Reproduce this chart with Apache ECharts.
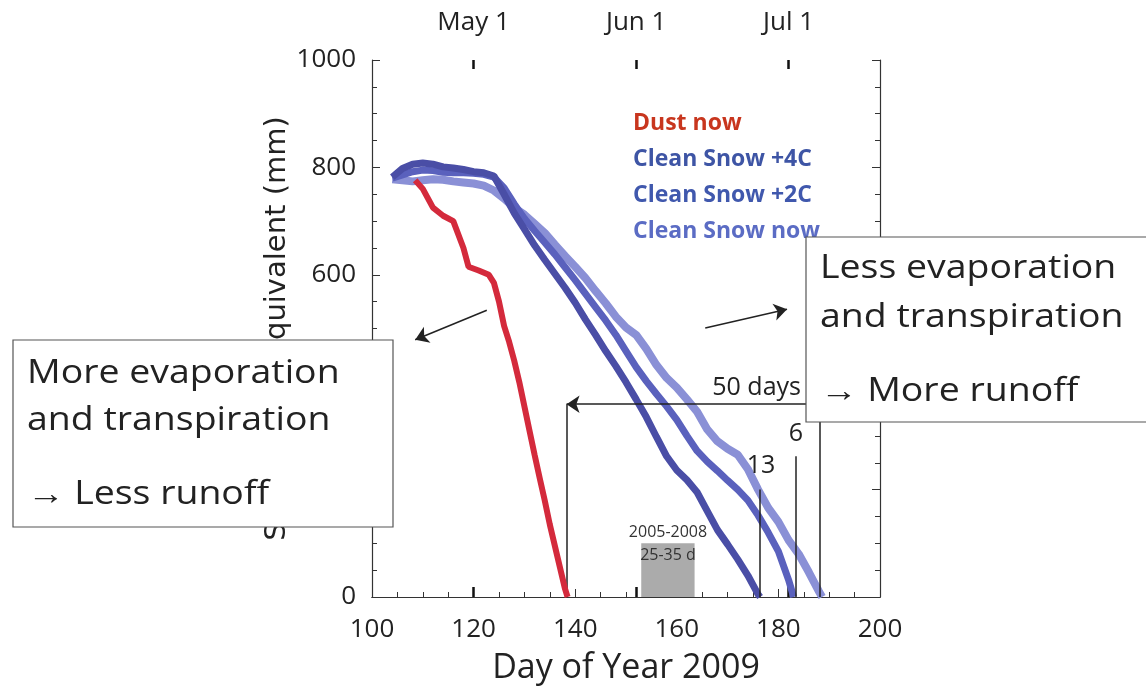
<!DOCTYPE html>
<html>
<head>
<meta charset="utf-8">
<script src="https://cdn.jsdelivr.net/npm/echarts@6/dist/echarts.min.js"></script>
<style>
html, body { margin: 0; padding: 0; background: #fff; }
#chart { width: 1146px; height: 690px; }
</style>
</head>
<body>
<div id="chart"></div>
<script>
// snow water equivalent (mm) by day of year 2009
const dustDays = [108.5, 110, 112, 114, 116, 118, 119, 121, 123, 124, 125, 126, 127, 128, 129, 130, 131, 132, 133, 134, 135, 136, 137, 138, 138.5];
const dustSwe = [776, 760, 725, 710, 700, 650, 615, 608, 600, 585, 550, 505, 475, 440, 400, 355, 310, 265, 222, 180, 135, 95, 55, 15, 0];

const warm4Days = [104, 106, 108, 110, 112, 114, 116, 118, 120, 122, 124, 126, 128, 130, 132, 134, 136, 138, 140, 142, 144, 146, 148, 150, 152, 154, 156, 158, 160, 162, 164, 166, 168, 170, 172, 174, 176, 176.4];
const warm4Swe = [782, 798, 806, 808, 806, 801, 799, 796, 792, 790, 784, 750, 715, 685, 655, 628, 602, 576, 548, 517, 488, 458, 430, 400, 368, 335, 298, 262, 236, 218, 195, 160, 125, 98, 70, 40, 5, 0];

const warm2Days = [104, 106, 108, 110, 112, 114, 116, 118, 120, 122, 124, 126, 128, 130, 132, 134, 136, 138, 140, 142, 144, 146, 148, 150, 152, 154, 156, 158, 160, 162, 164, 166, 168, 170, 172, 174, 176, 178, 180, 182, 183];
const warm2Swe = [780, 786, 792, 795, 794, 791, 790, 790, 789, 787, 782, 762, 732, 705, 682, 660, 638, 614, 590, 565, 540, 515, 488, 458, 428, 402, 378, 355, 330, 300, 272, 252, 235, 217, 200, 180, 152, 120, 85, 32, 0];

const nowDays = [104, 106, 108, 110, 112, 114, 116, 118, 120, 122, 124, 126, 128, 130, 132, 134, 136, 138, 140, 142, 144, 146, 148, 150, 152, 154, 156, 158, 160, 162, 164, 166, 168, 170, 172, 174, 176, 178, 180, 182, 184, 186, 188, 188.6];
const nowSwe = [778, 776, 774, 776, 778, 777, 774, 772, 770, 766, 757, 742, 725, 712, 695, 678, 656, 635, 615, 594, 570, 547, 522, 502, 488, 462, 432, 408, 390, 368, 345, 312, 290, 276, 265, 238, 200, 166, 140, 106, 80, 46, 10, 0];

const monthDays = [120, 152, 182];
const monthLabels = ['May 1', 'Jun 1', 'Jul 1'];

// melt-out day markers: dust, +4C, +2C, now
const meltOut = [138.3, 176.4, 183.5, 188.2];
const meltTop = [359, 200, 262, 359];
const spanSwe = 359;
// 2005-2008 melt-out range
const pastRange = [153, 163.5];
const pastTop = 100;

const zip = (xs, ys) => xs.map((x, i) => [x, ys[i]]);

const chart = echarts.init(document.getElementById('chart'));
const font = 'Open Sans';
const axisCol = '#333';

// wide box text, like the original lettering
const boxText = (x, y, text) => ({
  type: 'text', z: 101, x: x, y: y, scaleX: 1.17,
  style: { x: 0, y: 0, text: text, fill: '#222', font: '32px "Open Sans"', verticalAlign: 'middle' }
});

const option = {
  animation: false,
  textStyle: { fontFamily: font },
  grid: { left: 372, right: 266, top: 60, bottom: 93 },
  legend: {
    orient: 'vertical',
    left: 623,
    top: 105,
    icon: 'none',
    itemWidth: 0,
    itemGap: 10,
    selectedMode: false,
    textStyle: { fontSize: 23, fontWeight: 'bold', lineHeight: 26, fontFamily: font },
    data: [
      { name: 'Dust now', textStyle: { color: '#c8361e' } },
      { name: 'Clean Snow +4C', textStyle: { color: '#3e55a5' } },
      { name: 'Clean Snow +2C', textStyle: { color: '#4058ad' } },
      { name: 'Clean Snow now', textStyle: { color: '#5b6cc4' } }
    ]
  },
  xAxis: [
    {
      type: 'value', min: 100, max: 200, interval: 20,
      name: 'Day of Year 2009', nameLocation: 'middle', nameGap: 54,
      nameTextStyle: { fontSize: 34, color: '#222' },
      axisLine: { lineStyle: { color: axisCol, width: 1.2 } },
      axisTick: { inside: true, length: 8, lineStyle: { color: axisCol } },
      minorTick: { show: true, splitNumber: 4, length: 5, lineStyle: { color: axisCol } },
      axisLabel: { fontSize: 26, color: '#222', margin: 20 },
      splitLine: { show: false }
    },
    {
      type: 'value', min: 100, max: 200, position: 'top',
      axisLine: { lineStyle: { color: axisCol, width: 1.2 } },
      axisTick: { show: true, inside: false, length: 10, customValues: monthDays, lineStyle: { color: '#111', width: 2.5 } },
      axisLabel: {
        fontSize: 26, color: '#222', margin: 24, customValues: monthDays,
        formatter: v => monthLabels[monthDays.indexOf(v)]
      },
      splitLine: { show: false }
    },
    {
      type: 'value', min: 100, max: 200, position: 'top',
      axisLine: { show: false },
      axisTick: { show: true, inside: true, length: 9, customValues: monthDays, lineStyle: { color: '#111', width: 2.5 } },
      axisLabel: { show: false },
      splitLine: { show: false }
    }
  ],
  yAxis: [
    {
      type: 'value', min: 0, max: 1000, interval: 200,
      name: 'Snow Water Equivalent (mm)', nameLocation: 'middle', nameGap: 80,
      nameTextStyle: { fontSize: 29, color: '#222', fontFamily: 'DejaVu Sans' },
      axisLine: { show: true, lineStyle: { color: axisCol, width: 1.2 } },
      axisTick: { show: true, inside: true, length: 8, lineStyle: { color: axisCol } },
      minorTick: { show: true, splitNumber: 4, length: 5, lineStyle: { color: axisCol } },
      axisLabel: { fontSize: 26, color: '#222', margin: 16, formatter: v => String(v) },
      splitLine: { show: false }
    },
    {
      type: 'value', min: 0, max: 1000, interval: 200, position: 'right',
      axisLine: { show: true, lineStyle: { color: axisCol, width: 1.2 } },
      axisTick: { show: true, inside: true, length: 8, lineStyle: { color: axisCol } },
      minorTick: { show: true, splitNumber: 4, length: 5, lineStyle: { color: axisCol } },
      axisLabel: { show: false },
      splitLine: { show: false }
    }
  ],
  series: [
    {
      name: 'Clean Snow now', type: 'line', data: zip(nowDays, nowSwe),
      showSymbol: false, lineStyle: { width: 8, color: '#8a90d6' }, itemStyle: { color: '#8a90d6' },
      z: 2,
      markArea: {
        silent: true,
        itemStyle: { color: '#ababab' },
        data: [[{ coord: [pastRange[0], 0] }, { coord: [pastRange[1], pastTop] }]]
      },
      markLine: {
        silent: true,
        symbol: ['none', 'none'],
        symbolSize: 13,
        label: { show: false },
        lineStyle: { color: '#222', width: 1.5, type: 'solid' },
        data: [
          [{ coord: [meltOut[0], 0] }, { coord: [meltOut[0], meltTop[0]] }],
          [{ coord: [meltOut[1], 0] }, { coord: [meltOut[1], meltTop[1]] }],
          [{ coord: [meltOut[2], 0] }, { coord: [meltOut[2], meltTop[2]] }],
          [{ coord: [meltOut[3], 0] }, { coord: [meltOut[3], meltTop[3]] }],
          [{ coord: [meltOut[3], spanSwe] }, { coord: [meltOut[0], spanSwe], symbol: 'arrow' }],
          [{ coord: [122.6, 534] }, { coord: [108.5, 479], symbol: 'arrow' }],
          [{ coord: [165.6, 501] }, { coord: [181.7, 536], symbol: 'arrow' }]
        ]
      }
    },
    {
      name: 'Clean Snow +2C', type: 'line', data: zip(warm2Days, warm2Swe),
      showSymbol: false, lineStyle: { width: 7, color: '#5a61bd' }, itemStyle: { color: '#5a61bd' }, z: 3
    },
    {
      name: 'Clean Snow +4C', type: 'line', data: zip(warm4Days, warm4Swe),
      showSymbol: false, lineStyle: { width: 7, color: '#4a4ea6' }, itemStyle: { color: '#4a4ea6' }, z: 4
    },
    {
      name: 'Dust now', type: 'line', data: zip(dustDays, dustSwe),
      showSymbol: false, lineStyle: { width: 6, color: '#d42a3c' }, itemStyle: { color: '#d42a3c' }, z: 5
    }
  ],
  graphic: [
    { type: 'text', z: 50, style: { x: 668, y: 532, text: '2005-2008', fill: '#333', font: '16px "Open Sans"', align: 'center', verticalAlign: 'middle' } },
    { type: 'text', z: 50, style: { x: 668, y: 555, text: '25-35 d', fill: '#333', font: '16px "Open Sans"', align: 'center', verticalAlign: 'middle' } },
    { type: 'text', z: 50, style: { x: 801, y: 388, text: '50 days', fill: '#222', font: '25px "Open Sans"', align: 'right', verticalAlign: 'middle' } },
    { type: 'text', z: 50, style: { x: 761, y: 466, text: '13', fill: '#222', font: '25px "Open Sans"', align: 'center', verticalAlign: 'middle' } },
    { type: 'text', z: 50, style: { x: 796, y: 434, text: '6', fill: '#222', font: '25px "Open Sans"', align: 'center', verticalAlign: 'middle' } },
    { type: 'rect', z: 100, shape: { x: 13, y: 340, width: 380, height: 187 }, style: { fill: '#fff', stroke: '#555', lineWidth: 1.2 } },
    boxText(27, 374, 'More evaporation'),
    boxText(27, 421, 'and transpiration'),
    boxText(27, 495, '\u2192 Less runoff'),
    { type: 'rect', z: 100, shape: { x: 806, y: 237, width: 345, height: 185 }, style: { fill: '#fff', stroke: '#555', lineWidth: 1.2 } },
    boxText(820, 269, 'Less evaporation'),
    boxText(820, 318, 'and transpiration'),
    boxText(820, 392, '\u2192 More runoff')
  ]
};

chart.setOption(option);
</script>
</body>
</html>
